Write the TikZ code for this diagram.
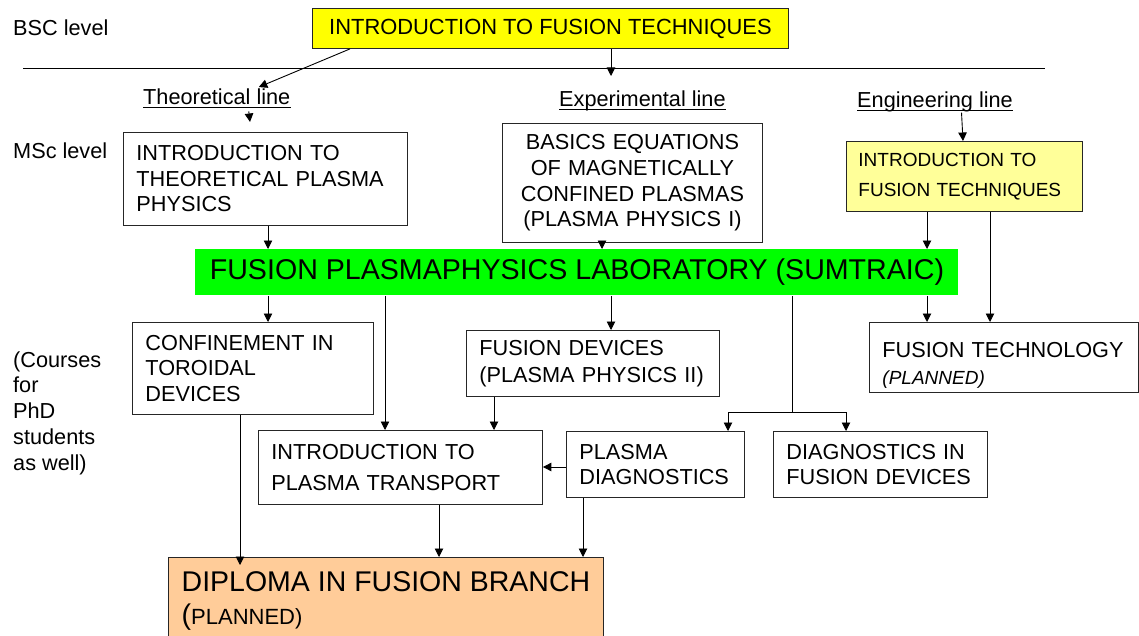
\documentclass[tikz,border=0pt]{standalone}
\usepackage{fontspec}
\setmainfont{Liberation Sans}
\usetikzlibrary{arrows.meta}
\definecolor{topyellow}{HTML}{FFFF00}
\definecolor{paleyellow}{HTML}{FFFF99}
\definecolor{labgreen}{HTML}{00FF00}
\definecolor{peach}{HTML}{FFCC99}
\begin{document}
\begin{tikzpicture}[x=1pt,y=-1pt,
  box/.style={draw=black!85, line width=0.9pt, inner xsep=13pt, inner ysep=0pt,
    align=left, anchor=north west, font=\fontsize{21.7}{25.5}\selectfont},
  plain/.style={inner sep=0pt, font=\fontsize{21.7}{25.8}\selectfont},
  arr/.style={-{Triangle[length=8.5pt,width=8.5pt]}, line width=0.9pt, black},
  conn/.style={line width=0.9pt, black},
  uline/.style={line width=0.9pt, black}]
\useasboundingbox (0,0) rectangle (1139,636);
\clip (0,0) rectangle (1139,636);
\fill[white] (0,0) rectangle (1139,636);

% side labels
\node[plain, anchor=west] (bsc) at (13,28) {BSC level};
\node[plain, anchor=west] (msc) at (13,151) {MSc level};
\node[plain, anchor=west, align=left] (phd) at (13,413) {(Courses\\for\\PhD\\students\\as well)};

% divider
\draw[conn] (23,68) -- (1045,68);

% top box
\node[box, fill=topyellow, align=center, minimum width=476pt, minimum height=40pt,
  font=\fontsize{21.9}{25}\selectfont] (top) at (312,8) {INTRODUCTION TO FUSION TECHNIQUES};

% line labels
\node[plain, anchor=base west] (tl) at (143,105) {Theoretical line};
\node[plain, anchor=base west] (ex) at (559,107) {Experimental line};
\node[plain, anchor=base west] (el) at (857,108) {Engineering line};
\draw[uline] ([yshift=-2.5pt]tl.base west) -- ([yshift=-2.5pt]tl.base east);
\draw[uline] ([yshift=-2.5pt]ex.base west) -- ([yshift=-2.5pt]ex.base east);
\draw[uline] ([yshift=-2.5pt]el.base west) -- ([yshift=-2.5pt]el.base east);

% MSc boxes
\node[box, text width=258pt, minimum height=93pt] (theo) at (123,132)
  {INTRODUCTION TO\\THEORETICAL PLASMA\\PHYSICS};
\node[box, align=center, text width=234pt, minimum height=119pt,
  font=\fontsize{21.7}{25.7}\selectfont] (basics) at (502,123)
  {BASICS EQUATIONS\\OF MAGNETICALLY\\CONFINED PLASMAS\\(PLASMA PHYSICS I)};
\node[box, fill=paleyellow, inner xsep=12pt, text width=212pt, minimum height=70pt,
  font=\fontsize{19}{30}\selectfont] (yel) at (846,141)
  {INTRODUCTION TO\\FUSION TECHNIQUES};

% green lab
\node[box, draw=none, fill=labgreen, align=center, minimum width=763pt, minimum height=46pt,
  font=\fontsize{28.6}{32}\selectfont] (green) at (195,249)
  {FUSION PLASMAPHYSICS LABORATORY (SUMTRAIC)};

% PhD-level boxes
\node[box, text width=215pt, minimum height=92pt] (conf) at (132,322)
  {CONFINEMENT IN\\TOROIDAL\\DEVICES};
\node[box, text width=227pt, minimum height=66pt, font=\fontsize{21.7}{27}\selectfont] (fdev) at (466,330)
  {FUSION DEVICES\\(PLASMA PHYSICS II)};
\node[box, text width=242.5pt, minimum height=70pt, font=\fontsize{21.7}{27}\selectfont] (ftech) at (869,322)
  {\rule{0pt}{31pt}FUSION TECHNOLOGY\\{\itshape\fontsize{19}{27}\selectfont (PLANNED)}};
\node[box, text width=258pt, minimum height=74pt, font=\fontsize{21.7}{31}\selectfont] (trans) at (258,430)
  {INTRODUCTION TO\\PLASMA TRANSPORT};
\node[box, text width=152pt, minimum height=66pt, font=\fontsize{21.7}{25}\selectfont] (pdiag) at (566,431)
  {PLASMA\\DIAGNOSTICS};
\node[box, text width=188pt, minimum height=66pt, font=\fontsize{21.7}{25}\selectfont] (dfus) at (773,431)
  {DIAGNOSTICS IN\\FUSION DEVICES};

% diploma
\node[box, fill=peach, minimum width=435pt, inner ysep=14.3pt,
  font=\fontsize{28.5}{33.3}\selectfont] (dip) at (168,557)
  {DIPLOMA IN FUSION BRANCH\\(\fontsize{22}{33.3}\selectfont PLANNED)\rule[-20pt]{0pt}{20pt}};

% connectors
\coordinate (expin) at (611,76);
\coordinate (thin) at (250,122);
\coordinate (split) at (792,412);
\draw[arr] ([xshift=38pt]top.south west) -- ([xshift=42pt,yshift=2pt]tl.north);
\draw[arr] ([xshift=299pt]top.south west) -- (expin);
\draw[arr] ([xshift=32pt,yshift=-6pt]tl.south) -- (thin);
\draw[arr] ([xshift=26.5pt]el.south) -- ([xshift=117pt]yel.north west);
\draw[arr] ([xshift=145pt]theo.south west) -- ([xshift=73pt]green.north west);
\draw[arr] ([xshift=100pt]basics.south west) -- ([xshift=407pt]green.north west);
\draw[arr] ([xshift=81pt]yel.south west) -- ([xshift=732pt]green.north west);
\draw[arr] ([xshift=144pt]yel.south west) -- ([xshift=121pt]ftech.north west);
\draw[arr] ([xshift=732pt]green.south west) -- ([xshift=58pt]ftech.north west);
\draw[arr] ([xshift=73pt]green.south west) -- ([xshift=136pt]conf.north west);
\draw[arr] ([xshift=190pt]green.south west) -- ([xshift=127pt]trans.north west);
\draw[arr] ([xshift=416pt]green.south west) -- ([xshift=145pt]fdev.north west);
\draw[arr] ([xshift=28pt]fdev.south west) -- ([xshift=236pt]trans.north west);
\draw[conn] ([xshift=597pt]green.south west) -- (split);
\draw[arr] (split) -| ([xshift=162pt]pdiag.north west);
\draw[arr] (split) -| ([xshift=73pt]dfus.north west);
\draw[arr] ([yshift=-36pt]pdiag.north west) -- ([yshift=-37pt]trans.north east);
\draw[arr] ([xshift=108pt]conf.south west) -- ([xshift=72pt,yshift=-8pt]dip.north west);
\draw[arr] ([xshift=181pt]trans.south west) -- ([xshift=271pt]dip.north west);
\draw[arr] ([xshift=17pt]pdiag.south west) -- ([xshift=415pt]dip.north west);
\end{tikzpicture}
\end{document}
